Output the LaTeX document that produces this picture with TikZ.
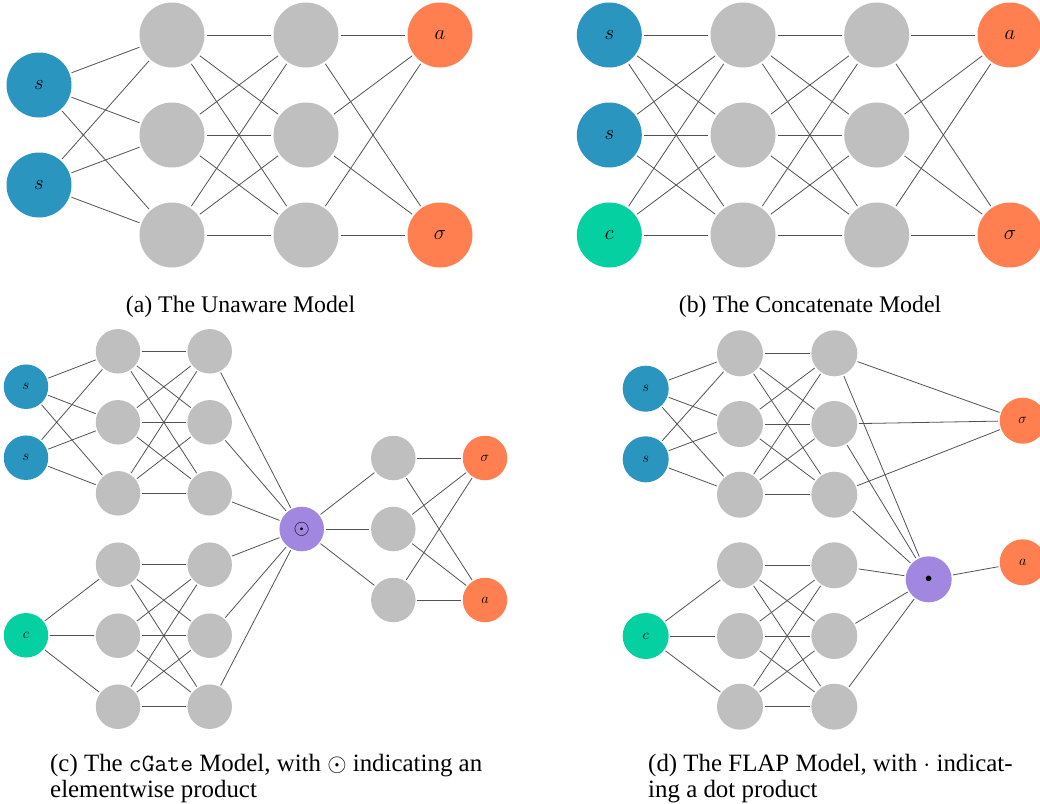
\documentclass[tikz,border=0pt]{standalone}
\usepackage{fontspec}
\setmainfont{Liberation Serif}
\definecolor{cS}{HTML}{2A95BF}
\definecolor{cC}{HTML}{05D0A2}
\definecolor{cH}{HTML}{BFBFBF}
\definecolor{cO}{HTML}{FF7F50}
\definecolor{cP}{HTML}{A287E0}
\begin{document}
\begin{tikzpicture}[x=1pt,y=-1pt,
  nrn/.style={circle,inner sep=0pt,draw=none},
  bign/.style={nrn,minimum size=65pt,outer sep=2.2pt,font=\fontsize{22}{22}\selectfont},
  smln/.style={nrn,minimum size=44.5pt,outer sep=1.6pt,font=\fontsize{15.5}{15.5}\selectfont},
  midn/.style={nrn,minimum size=46pt,outer sep=1.6pt,font=\fontsize{15.5}{15.5}\selectfont},
  sn/.style={fill=cS}, cn/.style={fill=cC}, hn/.style={fill=cH}, on/.style={fill=cO}, pn/.style={fill=cP},
  conn/.style={draw=black!68,line width=0.8pt},
  captext/.style={font=\fontsize{23.8}{27}\selectfont,inner sep=0pt},
  capbot/.style={font=\fontsize{24.9}{27}\selectfont,inner sep=0pt}]
\useasboundingbox (0,0) rectangle (1040,803);
% ---------- (a) ----------
\node[bign,sn] (as1) at (39,85) {$s$};
\node[bign,sn] (as2) at (39,185) {$s$};
\foreach \i/\y in {1/35,2/135,3/235}{
  \node[bign,hn] (ah\i) at (172,\y) {};
  \node[bign,hn] (ag\i) at (306,\y) {};
}
\node[bign,on] (aa) at (440,35) {$a$};
\node[bign,on] (asg) at (440,235) {$\sigma$};
\foreach \i in {1,2}{\foreach \j in {1,2,3}{\draw[conn] (as\i) -- (ah\j);}}
\foreach \i in {1,2,3}{\foreach \j in {1,2,3}{\draw[conn] (ah\i) -- (ag\j);}}
\foreach \i in {1,2,3}{\draw[conn] (ag\i) -- (aa); \draw[conn] (ag\i) -- (asg);}
\node[captext,anchor=base] (capa) at (240.5,312) {(a) The Unaware Model};
% ---------- (b) ----------
\node[bign,sn] (bs1) at (609.3,35) {$s$};
\node[bign,sn] (bs2) at (609.3,135) {$s$};
\node[bign,cn] (bs3) at (609.3,235) {$c$};
\foreach \i/\y in {1/35,2/135,3/235}{
  \node[bign,hn] (bh\i) at (743,\y) {};
  \node[bign,hn] (bg\i) at (876.7,\y) {};
}
\node[bign,on] (ba) at (1010,35) {$a$};
\node[bign,on] (bsg) at (1010,235) {$\sigma$};
\foreach \i in {1,2,3}{\foreach \j in {1,2,3}{\draw[conn] (bs\i) -- (bh\j); \draw[conn] (bh\i) -- (bg\j);}}
\foreach \i in {1,2,3}{\draw[conn] (bg\i) -- (ba); \draw[conn] (bg\i) -- (bsg);}
\node[captext,anchor=base] (capb) at (810,312) {(b) The Concatenate Model};
% ---------- (c) ----------
\node[smln,sn] (cs1) at (26,386.7) {$s$};
\node[smln,sn] (cs2) at (26,457.7) {$s$};
\node[smln,cn] (cc) at (26,635.3) {$c$};
\foreach \i/\y in {1/351.3,2/422.3,3/493.3}{
  \node[smln,hn] (cth\i) at (118,\y) {};
  \node[smln,hn] (ctg\i) at (209.7,\y) {};
}
\foreach \i/\y in {1/564.7,2/635.7,3/706.7}{
  \node[smln,hn] (cbh\i) at (118,\y) {};
  \node[smln,hn] (cbg\i) at (209.7,\y) {};
}
\node[smln,pn,font=\fontsize{21}{21}\selectfont] (cod) at (301.7,529) {$\odot$};
\foreach \i/\y in {1/458,2/529,3/600}{\node[smln,hn] (ck\i) at (393.3,\y) {};}
\node[smln,on] (csg) at (485,458) {$\sigma$};
\node[smln,on] (ca) at (485,600) {$a$};
\foreach \j in {1,2,3}{
  \draw[conn] (cs1) -- (cth\j); \draw[conn] (cs2) -- (cth\j); \draw[conn] (cc) -- (cbh\j);
  \draw[conn] (ctg\j) -- (cod); \draw[conn] (cbg\j) -- (cod); \draw[conn] (cod) -- (ck\j);
  \draw[conn] (ck\j) -- (csg); \draw[conn] (ck\j) -- (ca);
}
\foreach \i in {1,2,3}{\foreach \j in {1,2,3}{\draw[conn] (cth\i) -- (ctg\j); \draw[conn] (cbh\i) -- (cbg\j);}}
\node[capbot,anchor=base west] (capc1) at (50,771) {(c) The \texttt{cGate} Model, with $\odot$ indicating an};
\node[capbot,anchor=base west] (capc2) at (50,797.5) {elementwise product};
% ---------- (d) ----------
\node[midn,sn] (ds1) at (645.7,388.7) {$s$};
\node[midn,sn] (ds2) at (645.7,459.3) {$s$};
\node[midn,cn] (dc) at (645.7,636) {$c$};
\foreach \i/\y in {1/353.3,2/424,3/494.7}{
  \node[midn,hn] (dth\i) at (740,\y) {};
  \node[midn,hn] (dtg\i) at (834.3,\y) {};
}
\foreach \i/\y in {1/565.3,2/636,3/706.7}{
  \node[midn,hn] (dbh\i) at (740,\y) {};
  \node[midn,hn] (dbg\i) at (834.3,\y) {};
}
\node[midn,pn] (ddot) at (928.7,579.3) {$\bullet$};
\node[midn,on] (dsg) at (1022.7,420.7) {$\sigma$};
\node[midn,on] (da) at (1022.7,562.3) {$a$};
\foreach \j in {1,2,3}{
  \draw[conn] (ds1) -- (dth\j); \draw[conn] (ds2) -- (dth\j); \draw[conn] (dc) -- (dbh\j);
  \draw[conn] (dtg\j) -- (dsg); \draw[conn] (dtg\j) -- (ddot); \draw[conn] (dbg\j) -- (ddot);
}
\foreach \i in {1,2,3}{\foreach \j in {1,2,3}{\draw[conn] (dth\i) -- (dtg\j); \draw[conn] (dbh\i) -- (dbg\j);}}
\draw[conn] (ddot) -- (da);
\node[capbot,anchor=base west] (capd1) at (648,771) {(d) The FLAP Model, with $\cdot$ indicat-};
\node[capbot,anchor=base west] (capd2) at (648,797.5) {ing a dot product};
\end{tikzpicture}
\end{document}
